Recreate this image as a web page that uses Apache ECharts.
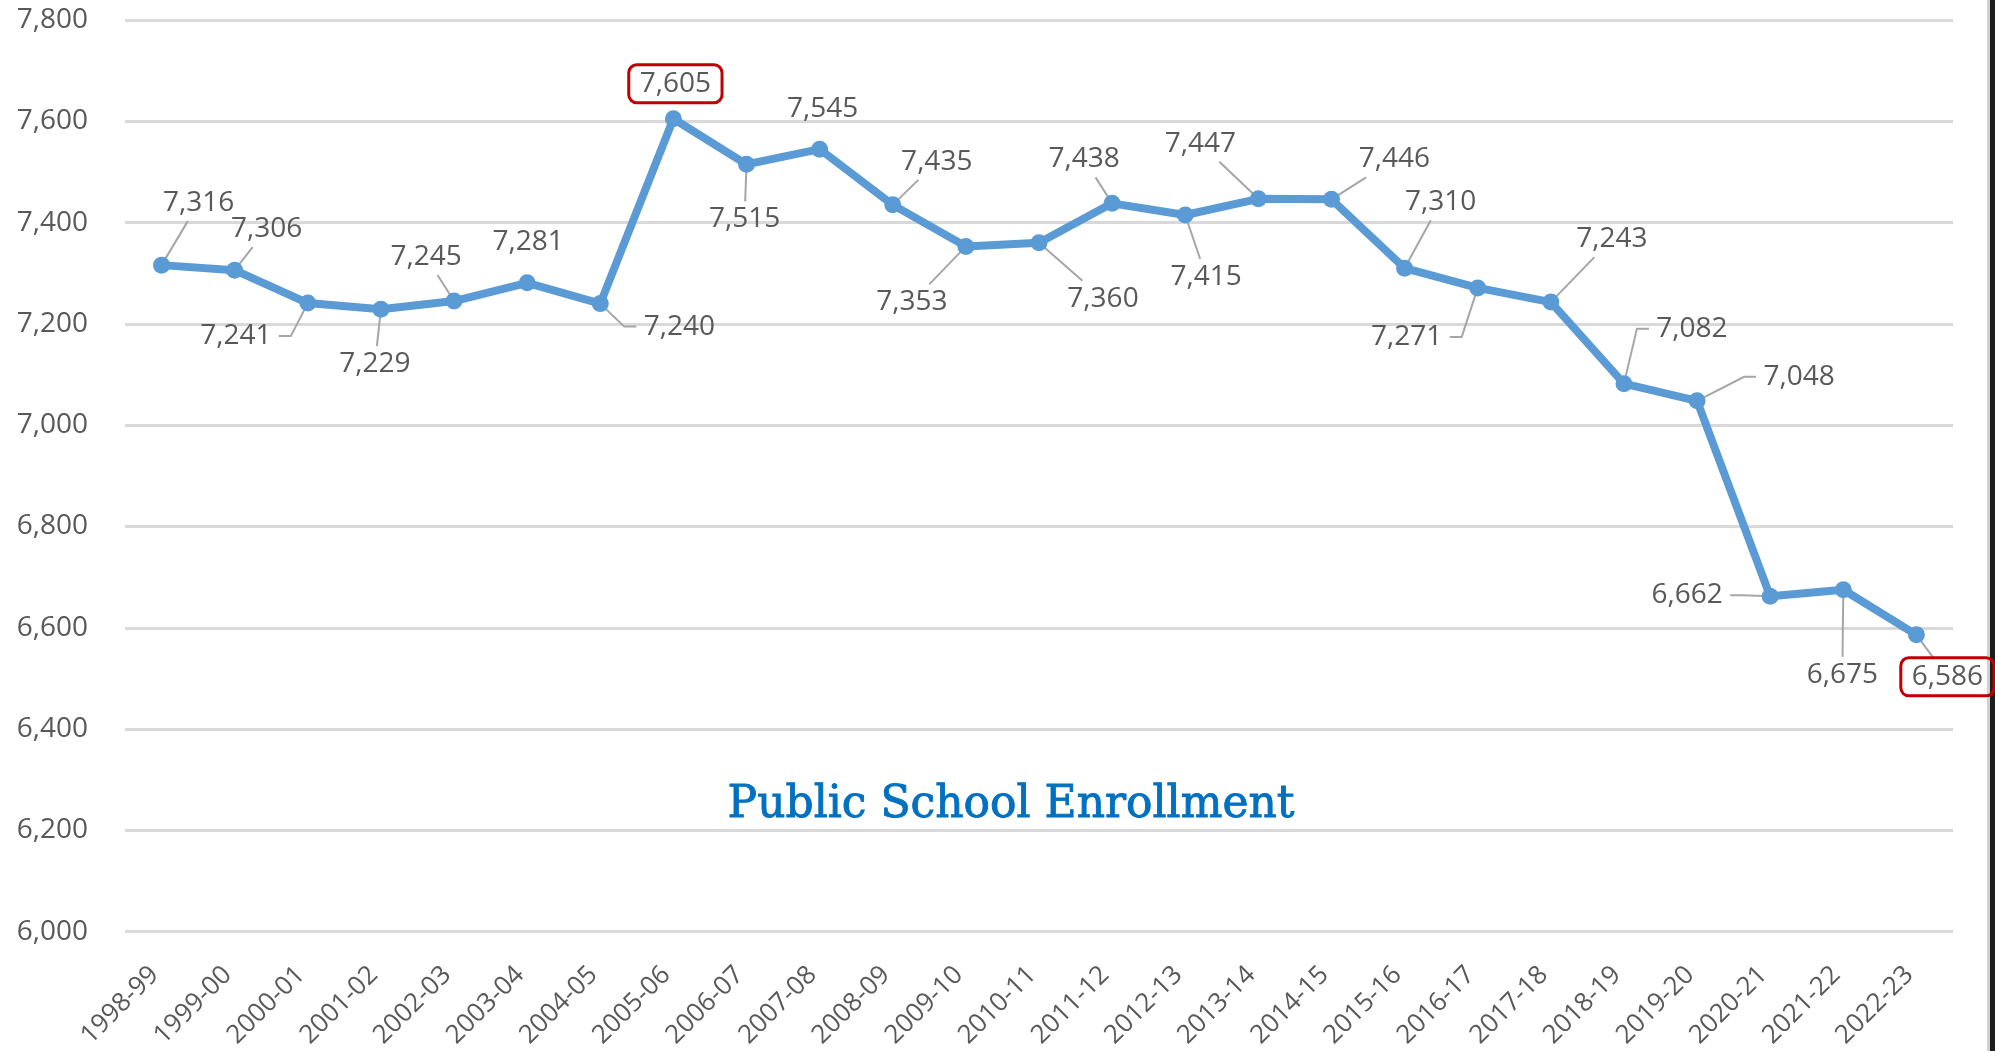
<!DOCTYPE html>
<html>
<head>
<meta charset="utf-8">
<script src="https://cdn.jsdelivr.net/npm/echarts@6/dist/echarts.min.js"></script>
<style>
html,body{margin:0;padding:0;background:#fff;}
#chart{width:1995px;height:1051px;}
</style>
</head>
<body>
<div id="chart"></div>
<script>
// ---- data ----
var categories = ['1998-99','1999-00','2000-01','2001-02','2002-03','2003-04','2004-05','2005-06','2006-07','2007-08','2008-09','2009-10','2010-11','2011-12','2012-13','2013-14','2014-15','2015-16','2016-17','2017-18','2018-19','2019-20','2020-21','2021-22','2022-23'];
var enrollment = [7316,7306,7241,7229,7245,7281,7240,7605,7515,7545,7435,7353,7360,7438,7415,7447,7446,7310,7271,7243,7082,7048,6662,6675,6586];
var highlighted = ['2005-06','2022-23'];
var chartTitle = 'Public School Enrollment';

// ---- label placement (style) ----
var labelOffsets = [[37,-62],[32,-41],[-72,33],[-6,55],[-28,-44],[1,-41],[79,23],[2,-35],[-2,55],[3,-40],[44,-43],[-54,56],[64,56],[-28,-44],[21,62],[-58,-55],[63,-40],[36,-66],[-71,49],[61,-63],[68,-55],[102,-24],[-83,-1],[-1,85],[31,42]];
// leader line style per point: 'd' direct, 's' side stub, 'n' none
var leaderKind = ['d','d','s','d','d','n','s','n','d','n','d','d','d','d','d','d','d','d','s','d','s','s','s','d','d'];

var FONT = "'Open Sans', sans-serif";
var TXT = '#595959';
var HALF_W = 37, HALF_H = 14;

var seriesData = enrollment.map(function(v, i){
  var cat = categories[i];
  var item = { value: v, label: { offset: labelOffsets[i] } };
  if (highlighted.indexOf(cat) >= 0) {
    item.label.borderColor = '#C00000';
    item.label.borderWidth = 3;
    item.label.borderRadius = 8;
    item.label.padding = [5, 11, 5, 11];
  }
  return item;
});

var leaderData = enrollment.map(function(v, i){ return [i, v]; });

function renderLeader(params, api) {
  var i = params.dataIndex;
  var kind = leaderKind[i];
  if (kind === 'n') return null;
  var p = api.coord([api.value(0), api.value(1)]);
  var off = labelOffsets[i];
  var cx = p[0] + off[0], cy = p[1] + off[1];
  var pts;
  if (kind === 's') {
    var sgn = off[0] < 0 ? 1 : -1;
    var ax = cx + sgn * (HALF_W + 6);
    var bx = ax + sgn * 12;
    pts = [[ax, cy], [bx, cy], [p[0], p[1]]];
  } else {
    var vx = -off[0], vy = -off[1];
    var t = Math.min(HALF_W / Math.abs(vx || 1e-6), (HALF_H + 4) / Math.abs(vy || 1e-6));
    pts = [[cx + vx * t, cy + vy * t], [p[0], p[1]]];
  }
  return {
    type: 'polyline',
    shape: { points: pts },
    style: { stroke: '#A6A6A6', lineWidth: 2, fill: null }
  };
}

var chart = echarts.init(document.getElementById('chart'));
chart.setOption({
  backgroundColor: '#ffffff',
  animation: false,
  grid: { left: 125, right: 42, top: 20, bottom: 117, containLabel: false },
  xAxis: {
    type: 'category',
    data: categories,
    boundaryGap: true,
    axisLine: { show: false },
    axisTick: { show: false },
    axisLabel: { rotate: 45, margin: 32, padding: [0, 10, 0, 0], color: TXT, fontFamily: FONT, fontSize: 26, interval: 0 }
  },
  yAxis: {
    type: 'value',
    min: 6000, max: 7800, interval: 200,
    axisLine: { show: false },
    axisTick: { show: false },
    axisLabel: {
      margin: 37, color: TXT, fontFamily: FONT, fontSize: 28,
      formatter: function(v){ return v.toLocaleString('en-US'); }
    },
    splitLine: { lineStyle: { color: '#D9D9D9', width: 3 } }
  },
  series: [{
    type: 'custom',
    data: leaderData,
    renderItem: renderLeader,
    silent: true,
    z: 2
  }, {
    type: 'line',
    data: seriesData,
    symbol: 'circle',
    symbolSize: 17,
    lineStyle: { color: '#5B9BD5', width: 8 },
    itemStyle: { color: '#5B9BD5' },
    label: {
      show: true,
      position: 'inside',
      color: TXT,
      fontFamily: FONT,
      fontSize: 28,
      formatter: function(p){ return p.value.toLocaleString('en-US'); }
    },
    z: 3
  }],
  graphic: [
    {
      type: 'text', x: 1011, y: 806, z: 10,
      style: { text: chartTitle, fill: '#0070C0', stroke: '#0070C0', lineWidth: 0.9, font: "44px 'DejaVu Serif', serif", textAlign: 'center', textVerticalAlign: 'middle' }
    },
    { type: 'rect', shape: { x: 1987, y: 0, width: 3, height: 1051 }, style: { fill: '#D0D0D0' } },
    { type: 'rect', shape: { x: 1990, y: 0, width: 5, height: 1051 }, style: { fill: '#1E1E1E' } }
  ]
});
</script>
</body>
</html>
